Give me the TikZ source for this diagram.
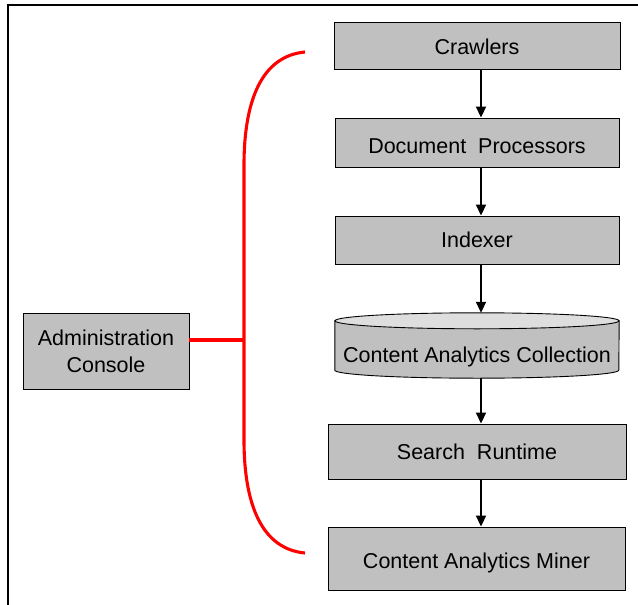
\documentclass[tikz,border=0pt]{standalone}
\usepackage{fontspec}
\setmainfont{Liberation Sans}
\usetikzlibrary{arrows.meta}
\definecolor{boxgray}{RGB}{192,192,192}
\definecolor{lidgray}{RGB}{222,222,222}
\tikzset{
  block/.style={draw=black, line width=0.9pt, fill=boxgray, inner sep=0pt,
    font=\fontsize{21.5}{27}\selectfont, align=center},
  % vertical placement of a single line of text inside its box
  capline/.style={text height=#1, text depth=0pt},
  flow/.style={line width=1.8pt, -{Triangle[length=11pt,width=10pt]}},
  brace/.style={red, line width=3.1pt},
}
\begin{document}
\begin{tikzpicture}[x=1pt, y=-1pt]
\useasboundingbox (0,0) rectangle (638,605);
% frame
\draw[line width=1.3pt] (8,605) -- (8,5) -- (638,5);

% pipeline
\node[block, capline=18.4pt, minimum width=286pt, minimum height=47pt] (crawl) at (477,45.5) {Crawlers};
\node[block, capline=21.4pt, minimum width=284pt, minimum height=49pt] (docp) at (477,142.5) {Document\ \ Processors};
\node[block, capline=15.4pt, minimum width=284pt, minimum height=48pt] (idx) at (477,240) {Indexer};
\node[inner sep=0pt, minimum width=284pt, minimum height=65pt] (coll) at (477,345.5) {};
\node[block, capline=15.4pt, minimum width=298pt, minimum height=55pt] (srch) at (477,451.5) {Search\ \ Runtime};
\node[block, capline=20.4pt, minimum width=297pt, minimum height=63pt] (miner) at (476.5,558.5) {Content Analytics Miner};
\node[block, minimum width=166pt, minimum height=76pt] (admin) at (106,351) {Administration\\Console};

% collection drawn as a cylinder
\draw[line width=0.9pt, fill=boxgray]
  ([yshift=-8pt]coll.north west) -- ([yshift=8pt]coll.south west)
  arc[start angle=180, end angle=360, x radius=142pt, y radius=8pt]
  -- ([yshift=-8pt]coll.north east) -- cycle;
\draw[line width=0.9pt, fill=lidgray] ([yshift=-8pt]coll.north) ellipse[x radius=142pt, y radius=8pt];
\node[font=\fontsize{21.5}{27}\selectfont, inner sep=0pt, capline=15.4pt]
  (colltext) at ([yshift=-9.5pt]coll.center) {Content Analytics Collection};

% arrows
\coordinate (ax) at (481,0);
\draw[flow] (crawl.south -| ax) -- (docp.north -| ax);
\draw[flow] (docp.south -| ax) -- (idx.north -| ax);
\draw[flow] (idx.south -| ax) -- (coll.north -| ax);
\draw[flow] (coll.south -| ax) -- (srch.north -| ax);
\draw[flow] (srch.south -| ax) -- (miner.north -| ax);

% red brace linking the console to the components
\coordinate (bt) at (305,52);
\coordinate (bb) at (305,553);
\coordinate (bj) at (244,340);
\draw[brace] (bt) .. controls (262,56) and (244,100) .. (244,165)
  -- (244,440) .. controls (244,505) and (262,549) .. (bb);
\draw[brace] (admin.east |- bj) -- (bj);
\end{tikzpicture}
\end{document}
